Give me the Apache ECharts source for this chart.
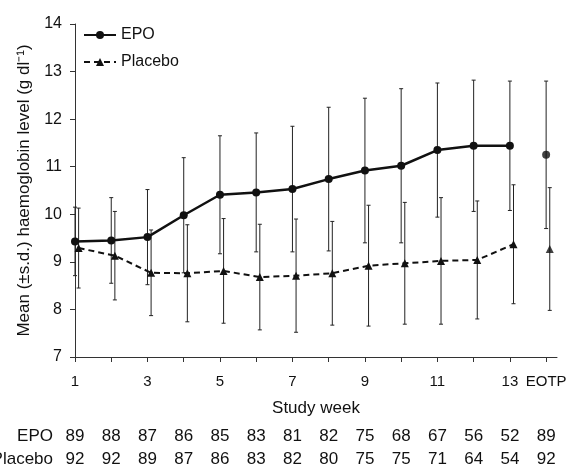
<!DOCTYPE html>
<html>
<head>
<meta charset="utf-8">
<script src="https://cdn.jsdelivr.net/npm/echarts@6/dist/echarts.min.js"></script>
<style>
  html, body { margin: 0; padding: 0; background: #fff; }
  #chart { width: 576px; height: 468px; }
</style>
</head>
<body>
<div id="chart"></div>
<script>
var myChart = echarts.init(document.getElementById('chart'));

// study weeks 1..13, EOTP drawn at position 14
var weeks = [1, 2, 3, 4, 5, 6, 7, 8, 9, 10, 11, 12, 13];
var eotpPos = 14;
var tickPos = [1, 3, 5, 7, 9, 11, 13, 14];
var tickLabels = ['1', '3', '5', '7', '9', '11', '13', 'EOTP'];

// mean and s.d., last entry = EOTP
var epoMean = [9.43, 9.45, 9.52, 9.98, 10.41, 10.46, 10.53, 10.74, 10.92, 11.02, 11.35, 11.44, 11.44, 11.25];
var epoSd = [0.72, 0.90, 1.00, 1.21, 1.24, 1.25, 1.32, 1.51, 1.52, 1.62, 1.41, 1.38, 1.36, 1.55];
var placeboMean = [9.29, 9.13, 8.77, 8.76, 8.81, 8.68, 8.71, 8.76, 8.92, 8.97, 9.02, 9.04, 9.37, 9.27];
var placeboSd = [0.84, 0.93, 0.90, 1.02, 1.10, 1.11, 1.19, 1.09, 1.27, 1.28, 1.33, 1.24, 1.25, 1.29];

// patients per visit
var epoN = [89, 88, 87, 86, 85, 83, 81, 82, 75, 68, 67, 56, 52, 89];
var placeboN = [92, 92, 89, 87, 86, 83, 82, 80, 75, 75, 71, 64, 54, 92];

var placeboShift = 0.1; // placebo points sit a little right of the tick

var font = '"Liberation Sans", Arial, sans-serif';
var ink = '#111';

function allPos() {
    var p = weeks.slice();
    p.push(eotpPos);
    return p;
}

function linePoints(mean, shift) {
    var out = [];
    for (var i = 0; i < weeks.length; i++) {
        out.push([weeks[i] + shift, mean[i]]);
    }
    return out;
}

function errPoints(mean, sd, shift) {
    var pos = allPos();
    var out = [];
    for (var i = 0; i < pos.length; i++) {
        out.push([pos[i] + shift, mean[i] - sd[i], mean[i] + sd[i]]);
    }
    return out;
}

function renderErr(params, api) {
    var x = api.value(0);
    var top = api.coord([x, api.value(2)]);
    var bot = api.coord([x, api.value(1)]);
    var w = 2;
    var st = { stroke: '#222', lineWidth: 1 };
    return {
        type: 'group',
        children: [
            { type: 'line', shape: { x1: top[0], y1: top[1], x2: bot[0], y2: bot[1] }, style: st },
            { type: 'line', shape: { x1: top[0] - w, y1: top[1], x2: top[0] + w, y2: top[1] }, style: st },
            { type: 'line', shape: { x1: bot[0] - w, y1: bot[1], x2: bot[0] + w, y2: bot[1] }, style: st }
        ]
    };
}

// one row of the patient-count table under the axis
function countRow(name, counts, offset) {
    return {
        type: 'value',
        position: 'bottom',
        offset: offset,
        min: 1,
        max: 14.3,
        name: name,
        nameLocation: 'start',
        nameGap: 22,
        nameTextStyle: { fontSize: 17, color: ink, fontFamily: font },
        axisLine: { show: false },
        axisTick: { show: false },
        splitLine: { show: false },
        axisLabel: {
            customValues: allPos(),
            margin: 0,
            verticalAlign: 'middle',
            fontSize: 17,
            color: ink,
            fontFamily: font,
            formatter: function (v) {
                var i = allPos().indexOf(v);
                return i < 0 ? '' : String(counts[i]);
            }
        }
    };
}

var option = {
    backgroundColor: '#fff',
    animation: false,
    grid: { left: 75, right: 19, top: 24, bottom: 111, containLabel: false, outerBoundsMode: 'none' },
    legend: {
        data: ['EPO', 'Placebo'],
        orient: 'vertical',
        left: 78,
        top: 22,
        itemWidth: 32,
        itemHeight: 10,
        itemGap: 11,
        textStyle: { fontSize: 16, color: ink, fontFamily: font }
    },
    xAxis: [
        {
            type: 'value',
            min: 1,
            max: 14.3,
            name: 'Study week',
            nameLocation: 'middle',
            nameGap: 43,
            nameTextStyle: { fontSize: 17, color: ink, fontFamily: font },
            axisLine: { lineStyle: { color: '#333', width: 1 } },
            axisTick: { customValues: allPos(), length: 5, lineStyle: { color: '#333' } },
            splitLine: { show: false },
            axisLabel: {
                customValues: tickPos,
                margin: 17,
                fontSize: 15,
                color: ink,
                fontFamily: font,
                formatter: function (v) {
                    var i = tickPos.indexOf(v);
                    return i < 0 ? '' : tickLabels[i];
                }
            }
        },
        countRow('EPO', epoN, 79),
        countRow('Placebo', placeboN, 102)
    ],
    yAxis: {
        type: 'value',
        min: 7,
        max: 14,
        interval: 1,
        name: 'Mean (±s.d.) haemoglobin level (g dl⁻¹)',
        nameLocation: 'middle',
        nameGap: 40,
        nameTextStyle: { fontSize: 17, color: ink, fontFamily: font },
        axisLine: { show: true, lineStyle: { color: '#333', width: 1 } },
        axisTick: { show: true, length: 5, lineStyle: { color: '#333' } },
        splitLine: { show: false },
        axisLabel: { margin: 13, fontSize: 16, color: ink, fontFamily: font }
    },
    series: [
        {
            name: 'EPO sd',
            type: 'custom',
            renderItem: renderErr,
            data: errPoints(epoMean, epoSd, 0),
            z: 1
        },
        {
            name: 'Placebo sd',
            type: 'custom',
            renderItem: renderErr,
            data: errPoints(placeboMean, placeboSd, placeboShift),
            z: 1
        },
        {
            name: 'EPO',
            type: 'line',
            data: linePoints(epoMean, 0),
            symbol: 'circle',
            symbolSize: 8,
            itemStyle: { color: '#111' },
            lineStyle: { color: '#111', width: 2.5 },
            z: 3
        },
        {
            name: 'Placebo',
            type: 'line',
            data: linePoints(placeboMean, placeboShift),
            symbol: 'triangle',
            symbolSize: 8,
            itemStyle: { color: '#111' },
            lineStyle: { color: '#111', width: 2, type: [6, 4] },
            z: 3
        },
        {
            name: 'EPO EOTP',
            type: 'scatter',
            data: [[eotpPos, epoMean[13]]],
            symbol: 'circle',
            symbolSize: 8,
            itemStyle: { color: '#111' },
            z: 3
        },
        {
            name: 'Placebo EOTP',
            type: 'scatter',
            data: [[eotpPos + placeboShift, placeboMean[13]]],
            symbol: 'triangle',
            symbolSize: 8,
            itemStyle: { color: '#111' },
            z: 3
        }
    ]
};

myChart.setOption(option);
</script>
</body>
</html>
